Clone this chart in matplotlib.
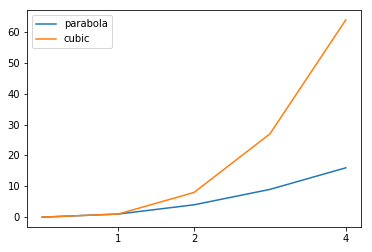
import matplotlib
matplotlib.use("Agg")
import matplotlib.pyplot as plt

x = [0, 1, 2, 3, 4]
parabola = [0, 1, 4, 9, 16]
cubic = [0, 1, 8, 27, 64]
xticks = [1, 2, 4]

fig = plt.figure(figsize=(372/72, 252/72), dpi=72)
ax = fig.add_axes([27/372, 25/252, 334/372, 217/252])
ax.plot(x, parabola, label="parabola")
ax.plot(x, cubic, label="cubic")
ax.set_xticks(xticks)
ax.legend(loc="upper left")
fig.savefig("out.png", dpi=72)
